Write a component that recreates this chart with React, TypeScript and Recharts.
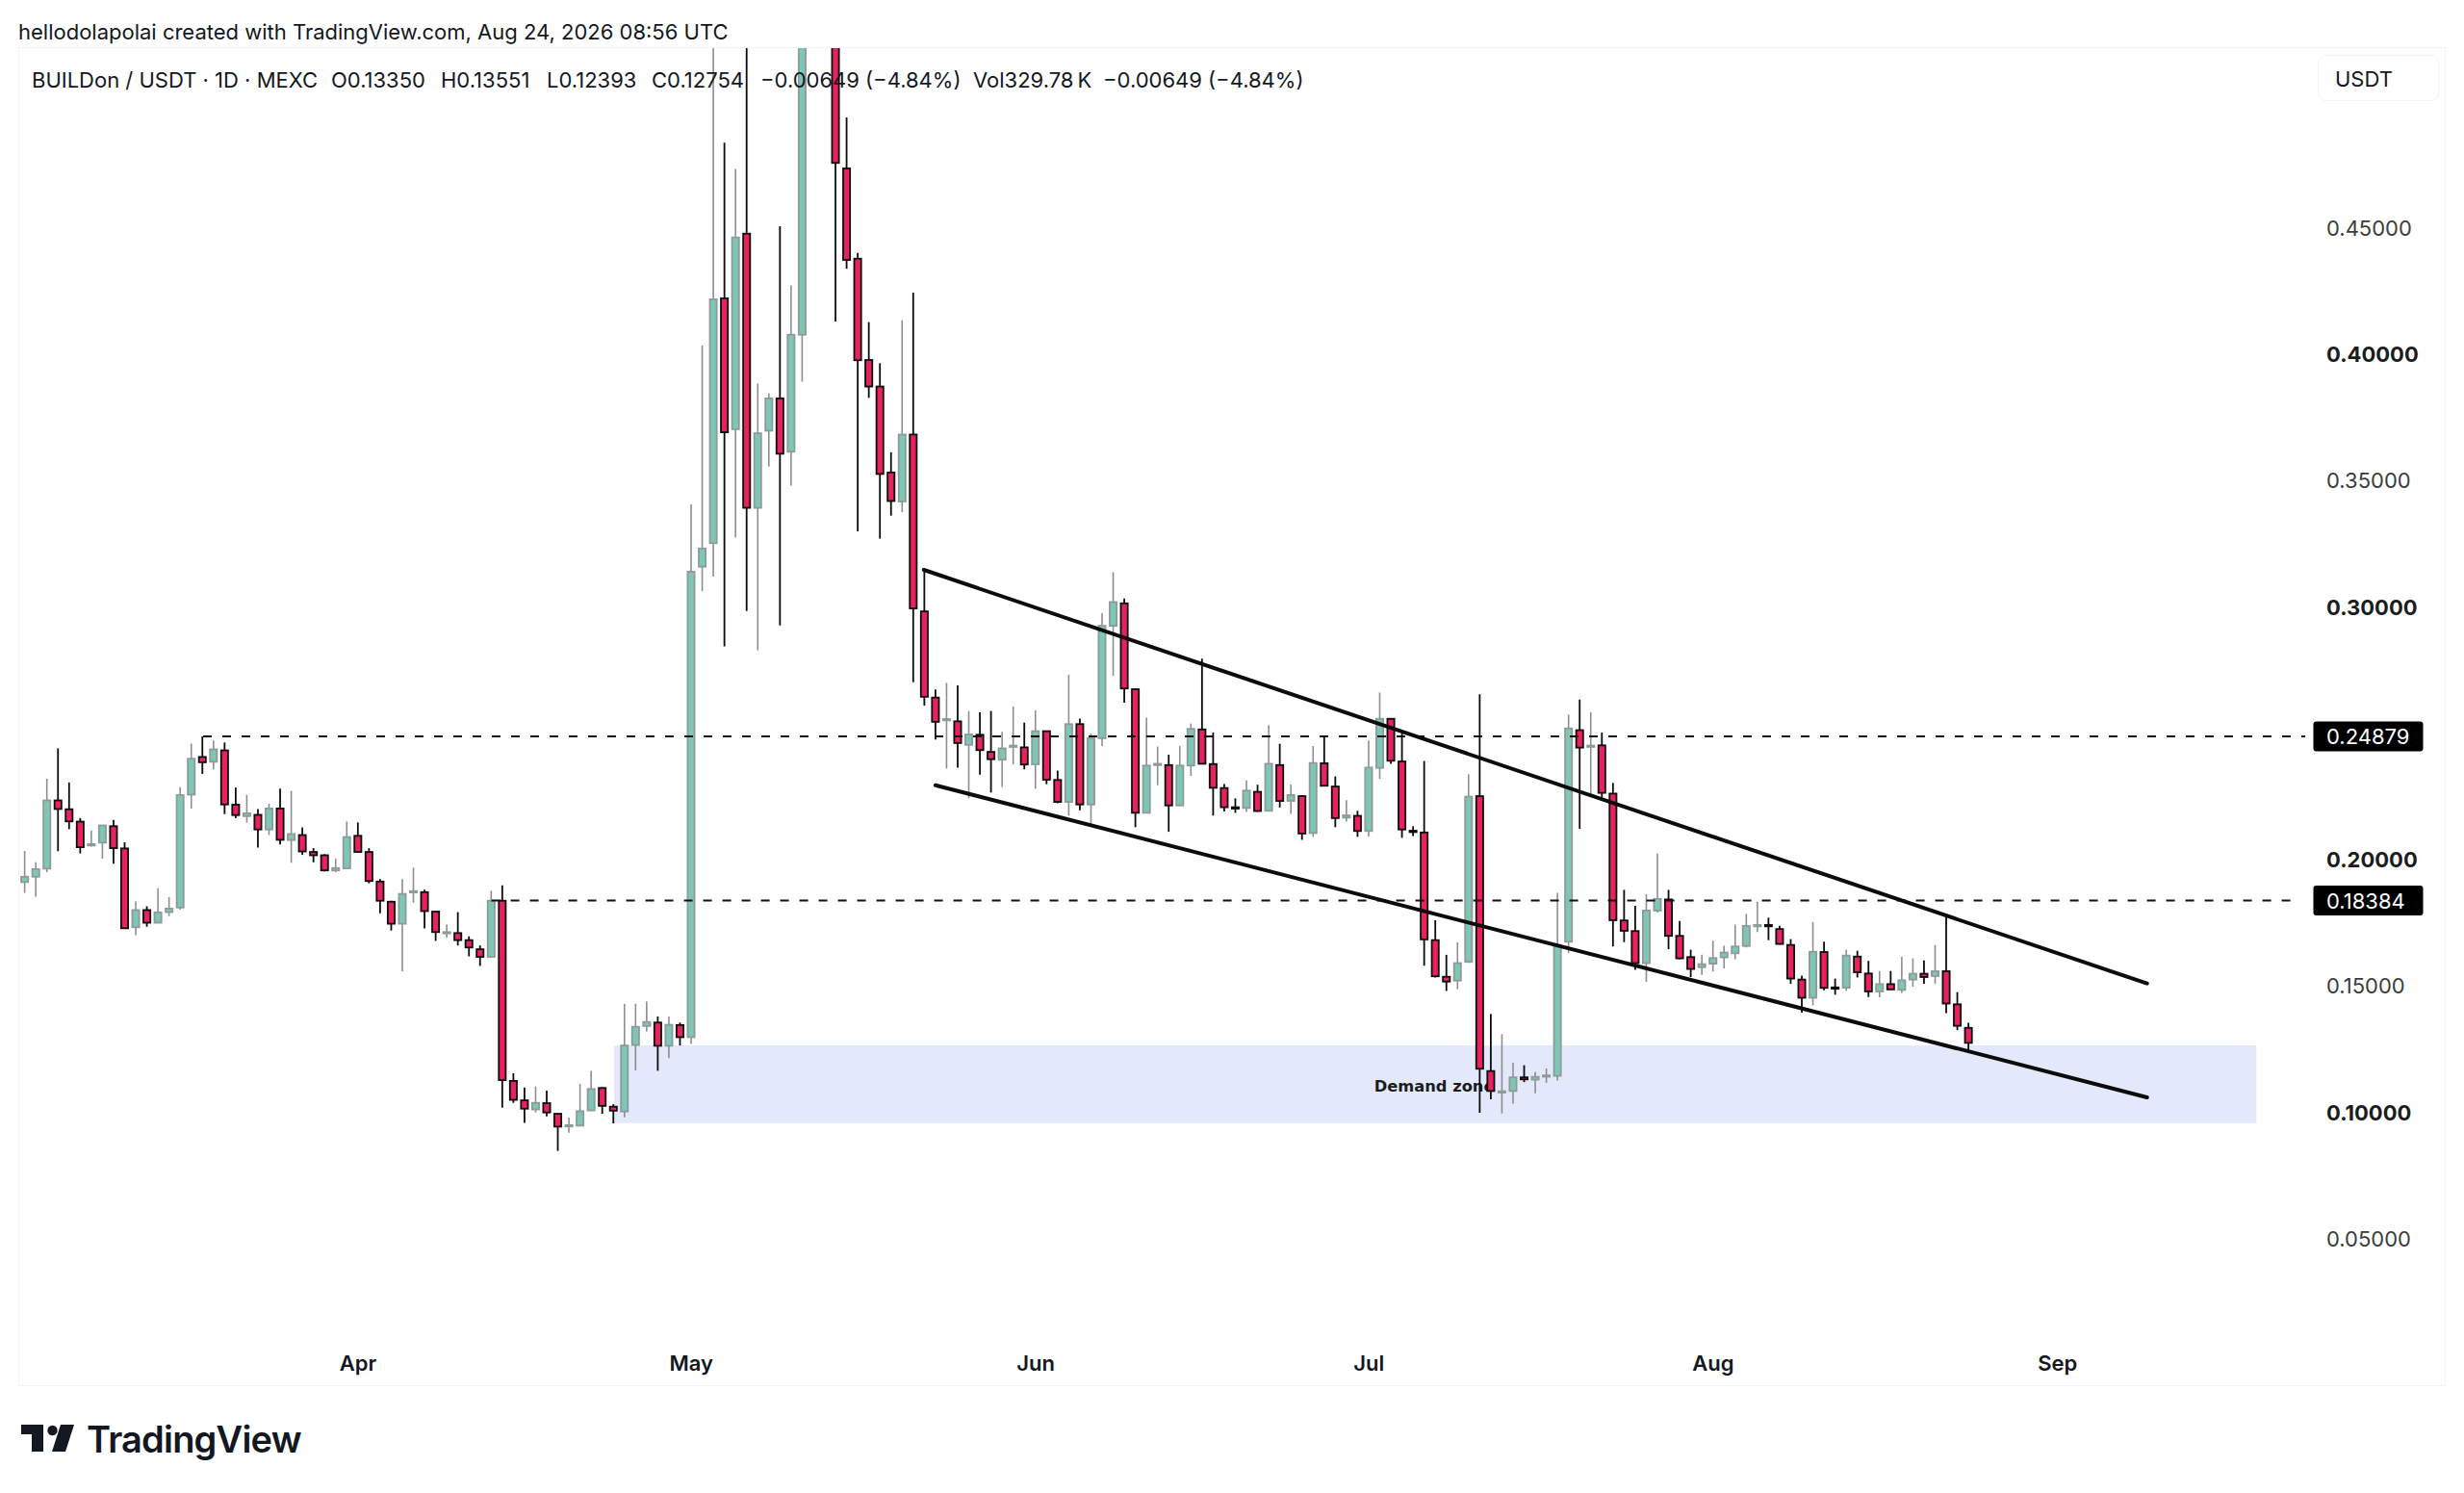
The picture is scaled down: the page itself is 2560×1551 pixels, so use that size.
import { Bar, ComposedChart, ReferenceArea, ReferenceLine, XAxis, YAxis } from 'recharts';

// Daily OHLC, first candle is Mar 2, last is Aug 24
const opens = [
  0.1912, 0.1933, 0.1965, 0.2235, 0.22, 0.2151, 0.2057, 0.2068, 0.2133, 0.2045,
  0.1733, 0.1801, 0.1751, 0.1793, 0.1811, 0.2258, 0.2407, 0.2388, 0.2433, 0.2218,
  0.2173, 0.2178, 0.212, 0.2203, 0.2078, 0.2098, 0.2031, 0.2018, 0.1958, 0.1966,
  0.2095, 0.2031, 0.1914, 0.1834, 0.1747, 0.1873, 0.1872, 0.1795, 0.1712, 0.171,
  0.1682, 0.1646, 0.1616, 0.1838, 0.1125, 0.1048, 0.1012, 0.1037, 0.0995, 0.0948,
  0.0948, 0.1008, 0.1097, 0.1023, 0.1004, 0.1267, 0.1342, 0.1356, 0.1264, 0.1346,
  0.1298, 0.316, 0.3253, 0.4222, 0.3704, 0.4478, 0.3393, 0.3698, 0.3826, 0.3615,
  0.4078, 0.56, 0.61, 0.58, 0.4736, 0.4379, 0.3978, 0.3873, 0.3533, 0.3418,
  0.3683, 0.2983, 0.2642, 0.2553, 0.2548, 0.2455, 0.2495, 0.2427, 0.2396, 0.2449,
  0.2445, 0.2378, 0.2509, 0.2316, 0.2229, 0.2537, 0.2219, 0.2481, 0.2926, 0.3015,
  0.2675, 0.2186, 0.2378, 0.2375, 0.2215, 0.2373, 0.2516, 0.2379, 0.2284, 0.2208,
  0.2205, 0.2269, 0.2194, 0.2375, 0.2233, 0.2252, 0.2106, 0.2382, 0.229, 0.2167,
  0.2174, 0.2114, 0.2364, 0.2558, 0.2389, 0.2115, 0.2108, 0.1682, 0.1537, 0.1522,
  0.1596, 0.2252, 0.1164, 0.1081, 0.1085, 0.1139, 0.113, 0.1145, 0.1145, 0.1676,
  0.2513, 0.2448, 0.2453, 0.2262, 0.176, 0.1718, 0.1591, 0.1799, 0.1843, 0.1699,
  0.1615, 0.1575, 0.1589, 0.1614, 0.163, 0.1659, 0.1738, 0.1742, 0.1726, 0.1663,
  0.1526, 0.1454, 0.1635, 0.1495, 0.1494, 0.1617, 0.155, 0.1479, 0.1508, 0.1485,
  0.1526, 0.1549, 0.154, 0.1559, 0.1428, 0.1335,
];
const highs = [
  0.2035, 0.199, 0.2321, 0.2441, 0.2306, 0.2165, 0.2116, 0.2138, 0.2158, 0.2069,
  0.1835, 0.1816, 0.1887, 0.1852, 0.2287, 0.246, 0.2488, 0.2472, 0.2464, 0.2286,
  0.2257, 0.2201, 0.2222, 0.2282, 0.2273, 0.2128, 0.2046, 0.2022, 0.2004, 0.2151,
  0.2148, 0.2046, 0.1924, 0.1838, 0.1924, 0.1969, 0.1882, 0.1795, 0.1744, 0.1793,
  0.1697, 0.1661, 0.1878, 0.1899, 0.1155, 0.1099, 0.1103, 0.1086, 0.0995, 0.098,
  0.1113, 0.1165, 0.1099, 0.1033, 0.143, 0.143, 0.1439, 0.138, 0.138, 0.1356,
  0.3407, 0.4035, 0.56, 0.4838, 0.4734, 0.55, 0.3885, 0.3846, 0.4507, 0.4273,
  0.6, 0.66, 0.64, 0.6, 0.4938, 0.4402, 0.4128, 0.3965, 0.3613, 0.4135,
  0.4245, 0.315, 0.2674, 0.27, 0.269, 0.2589, 0.2584, 0.2589, 0.2506, 0.2607,
  0.2543, 0.2591, 0.251, 0.2353, 0.2732, 0.2559, 0.25, 0.2976, 0.3138, 0.3034,
  0.2679, 0.2563, 0.2448, 0.2416, 0.245, 0.2539, 0.2796, 0.2504, 0.23, 0.2243,
  0.2314, 0.2297, 0.2533, 0.2459, 0.2298, 0.2256, 0.245, 0.2491, 0.233, 0.2236,
  0.2194, 0.2472, 0.2662, 0.256, 0.25, 0.2133, 0.2391, 0.1761, 0.1624, 0.1673,
  0.2339, 0.2655, 0.139, 0.131, 0.1197, 0.1187, 0.1161, 0.1174, 0.1869, 0.2575,
  0.2634, 0.2584, 0.2504, 0.2304, 0.1881, 0.1818, 0.1864, 0.2025, 0.1881, 0.1758,
  0.1644, 0.1625, 0.168, 0.166, 0.1743, 0.1786, 0.1834, 0.1771, 0.1739, 0.1686,
  0.1542, 0.1754, 0.1676, 0.153, 0.1644, 0.164, 0.16, 0.156, 0.156, 0.1616,
  0.161, 0.1602, 0.1663, 0.1777, 0.1476, 0.13551,
];
const lows = [
  0.1869, 0.1854, 0.1951, 0.2034, 0.2121, 0.2025, 0.2052, 0.2005, 0.1985, 0.1728,
  0.1702, 0.1735, 0.175, 0.1777, 0.1803, 0.2203, 0.234, 0.2358, 0.2181, 0.2165,
  0.2147, 0.2048, 0.2098, 0.2061, 0.1988, 0.202, 0.199, 0.1954, 0.1951, 0.1965,
  0.203, 0.1907, 0.1788, 0.172, 0.1559, 0.183, 0.1728, 0.1679, 0.1691, 0.1661,
  0.1618, 0.158, 0.1615, 0.1019, 0.1038, 0.0959, 0.1, 0.0985, 0.0848, 0.092,
  0.0947, 0.1007, 0.0995, 0.0957, 0.0981, 0.1167, 0.1321, 0.1165, 0.1215, 0.1265,
  0.1271, 0.3063, 0.3121, 0.2845, 0.3276, 0.2985, 0.2829, 0.3556, 0.2927, 0.3481,
  0.3892, 0.54, 0.55, 0.413, 0.4339, 0.33, 0.3828, 0.3271, 0.3362, 0.3376,
  0.2703, 0.261, 0.2476, 0.2361, 0.2365, 0.2243, 0.2337, 0.2266, 0.2287, 0.2377,
  0.2358, 0.2281, 0.2299, 0.2224, 0.2175, 0.2196, 0.2139, 0.245, 0.2728, 0.2622,
  0.2129, 0.2186, 0.2295, 0.2111, 0.2215, 0.2332, 0.238, 0.2175, 0.2191, 0.2186,
  0.2189, 0.219, 0.2193, 0.2207, 0.2182, 0.2079, 0.2091, 0.2293, 0.2129, 0.2151,
  0.2091, 0.2092, 0.232, 0.238, 0.2087, 0.2094, 0.1581, 0.1534, 0.1481, 0.1488,
  0.1592, 0.0999, 0.1052, 0.0996, 0.1035, 0.112, 0.1076, 0.1117, 0.1126, 0.1631,
  0.2123, 0.226, 0.2245, 0.1657, 0.1674, 0.1565, 0.1517, 0.1791, 0.1646, 0.1606,
  0.1536, 0.1545, 0.1558, 0.157, 0.1606, 0.1653, 0.1714, 0.1682, 0.1665, 0.1509,
  0.1395, 0.1424, 0.1484, 0.1466, 0.1481, 0.1534, 0.1457, 0.1456, 0.1487, 0.1473,
  0.1498, 0.1509, 0.1509, 0.1393, 0.1326, 0.12393,
];
const closes = [
  0.1933, 0.1963, 0.2235, 0.2201, 0.2152, 0.205, 0.2062, 0.2136, 0.2046, 0.1729,
  0.1801, 0.1751, 0.1792, 0.1807, 0.2256, 0.24, 0.2386, 0.2437, 0.2219, 0.2177,
  0.2184, 0.212, 0.2203, 0.2079, 0.2102, 0.2033, 0.2018, 0.1958, 0.1967, 0.209,
  0.2031, 0.1916, 0.1838, 0.1747, 0.1865, 0.1876, 0.1797, 0.1714, 0.1714, 0.1682,
  0.1653, 0.1616, 0.1838, 0.1128, 0.105, 0.1015, 0.1038, 0.1, 0.0944, 0.095,
  0.1005, 0.1093, 0.1026, 0.1007, 0.1265, 0.1339, 0.1358, 0.1264, 0.1347, 0.1298,
  0.314, 0.3232, 0.4218, 0.3692, 0.4463, 0.3393, 0.3688, 0.3826, 0.3607, 0.4078,
  0.56, 0.61, 0.58, 0.4758, 0.4374, 0.3977, 0.3873, 0.3527, 0.342, 0.3683,
  0.2995, 0.2645, 0.2546, 0.2557, 0.2462, 0.2496, 0.2434, 0.2398, 0.2441, 0.2452,
  0.2377, 0.2509, 0.2317, 0.2229, 0.2537, 0.2219, 0.2481, 0.2926, 0.302, 0.2678,
  0.2186, 0.2373, 0.238, 0.2215, 0.2373, 0.2518, 0.238, 0.2285, 0.2208, 0.2205,
  0.2274, 0.2193, 0.238, 0.2233, 0.2256, 0.2104, 0.2383, 0.2293, 0.2165, 0.2176,
  0.2114, 0.2365, 0.2558, 0.2392, 0.212, 0.2111, 0.1685, 0.1539, 0.1518, 0.1591,
  0.225, 0.1173, 0.1085, 0.1084, 0.1139, 0.1131, 0.1141, 0.1147, 0.1663, 0.252,
  0.2444, 0.2452, 0.2265, 0.1761, 0.1719, 0.1591, 0.1799, 0.1845, 0.1699, 0.161,
  0.1568, 0.1587, 0.1611, 0.1633, 0.1657, 0.1738, 0.1742, 0.1738, 0.1667, 0.153,
  0.1454, 0.1636, 0.1493, 0.149, 0.1621, 0.1555, 0.1479, 0.1508, 0.1487, 0.1523,
  0.1549, 0.1536, 0.1559, 0.1431, 0.1343, 0.12754,
];

const priceTicks = [0.05, 0.1, 0.15, 0.2, 0.25, 0.3, 0.35, 0.4, 0.45];
const boldTicks = [0.1, 0.2, 0.3, 0.4];
const levels = [0.24879, 0.18384];
const monthTicks = [30, 60, 91, 121, 152, 183];
const monthLabels = ['Apr', 'May', 'Jun', 'Jul', 'Aug', 'Sep'];

const candles = opens.map((open, i) => ({
  day: i,
  open,
  close: closes[i],
  high: highs[i],
  low: lows[i],
  range: [lows[i], highs[i]],
}));

const FONT = 'Inter, sans-serif';
const UP = { body: '#7ec6b5', edge: '#8f9b98', wick: '#8e8e8e' };
const DOWN = { body: '#e8215f', edge: '#0c0c0c', wick: '#0c0c0c' };

// Bar gets the low-high range, the body is placed from the same pixel scale
function Candle(props: any) {
  const { x, y, width, height, payload } = props;
  const perUnit = height / (payload.high - payload.low);
  const up = payload.close >= payload.open;
  const c = up ? UP : DOWN;
  const mid = x + width / 2;
  const top = y + (payload.high - Math.max(payload.open, payload.close)) * perUnit;
  const bodyH = Math.abs(payload.open - payload.close) * perUnit;
  return (
    <g>
      <line x1={mid} x2={mid} y1={y} y2={y + height} stroke={c.wick} strokeWidth={up ? 1.6 : 1.8} />
      <rect
        x={mid - 3.6}
        y={top}
        width={7.2}
        height={Math.max(bodyH, 1.4)}
        fill={c.body}
        stroke={c.edge}
        strokeWidth={1.8}
      />
    </g>
  );
}

function PriceTick({ x, y, payload }: any) {
  const v = payload.value;
  const label = v.toFixed(5);
  if (levels.includes(v)) {
    return (
      <g>
        <rect x={x + 1.5} y={y - 15.5} width={114} height={31} rx={3} fill="#000" />
        <text x={x + 15} y={y} dy="0.36em" fontFamily={FONT} fontSize={22} fill="#fff">{label}</text>
      </g>
    );
  }
  const bold = boldTicks.includes(v);
  return (
    <text
      x={x + 15}
      y={y}
      dy="0.36em"
      fontFamily={FONT}
      fontSize={22}
      fontWeight={bold ? 700 : 400}
      fill={bold ? '#1c1c1c' : '#3c3c3c'}
    >
      {label}
    </text>
  );
}

// Zone and its caption stay together so the candles paint over the caption
function DemandZone({ x, y, width, height }: any) {
  return (
    <g>
      <rect x={x} y={y} width={width} height={height} fill="#e3e9fb" />
      <text
        x={x + width / 2 - 1}
        y={y + height / 2 + 2}
        dy="0.36em"
        textAnchor="middle"
        fontFamily="DejaVu Sans"
        fontWeight={700}
        fontSize={16.3}
        fill="#1c1c1c"
      >
        Demand zone
      </text>
    </g>
  );
}

const legendStyle = { position: 'absolute', top: 70, fontSize: 22, lineHeight: '26px', color: '#131722', whiteSpace: 'pre' } as const;

export default function App() {
  return (
    <div style={{ position: 'absolute', left: 0, top: 0, width: 2560, height: 1551, background: '#fff', fontFamily: FONT }}>
      <div style={{ position: 'absolute', left: 19, top: 49, width: 2522, height: 1391, border: '1.5px solid #f3f4f6', boxSizing: 'border-box' }} />
      <ComposedChart
        width={2560}
        height={1551}
        data={candles}
        margin={{ top: 50, right: 19, bottom: 111, left: 20 }}
        style={{ position: 'absolute', left: 0, top: 0 }}
      >
        <XAxis
          dataKey="day"
          type="number"
          domain={[-0.511, 205.73]}
          allowDataOverflow
          ticks={monthTicks}
          interval={0}
          tickFormatter={(v: number) => monthLabels[monthTicks.indexOf(v)]}
          axisLine={false}
          tickLine={false}
          height={50}
          tickMargin={12}
          tick={{ fontFamily: FONT, fontSize: 22, fontWeight: 600, fill: '#131722' }}
        />
        <YAxis
          orientation="right"
          type="number"
          domain={[0.01074, 0.52122]}
          allowDataOverflow
          ticks={[...priceTicks, ...levels]}
          interval={0}
          axisLine={false}
          tickLine={false}
          tickSize={0}
          width={141}
          tick={PriceTick}
        />
        <ReferenceArea x1={53.04} x2={200.9} y1={0.0958} y2={0.12655} shape={DemandZone} />
        <ReferenceLine
          segment={[{ x: 16.04, y: levels[0] }, { x: 205.3, y: levels[0] }]}
          stroke="#111"
          strokeWidth={2}
          strokeDasharray="9 11"
        />
        <ReferenceLine
          segment={[{ x: 42, y: levels[1] }, { x: 204.9, y: levels[1] }]}
          stroke="#111"
          strokeWidth={2}
          strokeDasharray="9 11"
        />
        <ReferenceLine
          segment={[{ x: 80.93, y: 0.31474 }, { x: 191.06, y: 0.15105 }]}
          stroke="#0c0c0c"
          strokeWidth={4}
          strokeLinecap="round"
        />
        <ReferenceLine
          segment={[{ x: 81.97, y: 0.22952 }, { x: 191.06, y: 0.10598 }]}
          stroke="#0c0c0c"
          strokeWidth={4}
          strokeLinecap="round"
        />
        <Bar dataKey="range" barSize={9} shape={Candle} isAnimationActive={false} />
      </ComposedChart>

      <div style={{ position: 'absolute', left: 19, top: 20, fontSize: 22, lineHeight: '26px', color: '#131722', whiteSpace: 'pre' }}>
        hellodolapolai created with TradingView.com, Aug 24, 2026 08:56 UTC
      </div>
      <div style={{ ...legendStyle, left: 33 }}>BUILDon / USDT · 1D · MEXC</div>
      <div style={{ ...legendStyle, left: 344 }}>O0.13350</div>
      <div style={{ ...legendStyle, left: 458 }}>H0.13551</div>
      <div style={{ ...legendStyle, left: 568 }}>L0.12393</div>
      <div style={{ ...legendStyle, left: 677 }}>C0.12754</div>
      <div style={{ ...legendStyle, left: 790 }}>−0.00649 (−4.84%)</div>
      <div style={{ ...legendStyle, left: 1011 }}>Vol329.78{'\u2009'}K</div>
      <div style={{ ...legendStyle, left: 1146 }}>−0.00649 (−4.84%)</div>
      <div style={{ position: 'absolute', left: 2408, top: 57, width: 126, height: 48, boxSizing: 'border-box', border: '1.5px solid #f4f4f6', borderRadius: 8, fontSize: 22, lineHeight: '48px', paddingLeft: 17, color: '#131722' }}>
        USDT
      </div>
      <svg style={{ position: 'absolute', left: 0, top: 0 }} width={100} height={1551}>
        <path d="M22 1480 H45 V1508 H33 V1490 H22 Z" fill="#131722" />
        <circle cx={54.5} cy={1486} r={5.2} fill="#131722" />
        <path d="M63 1480 H77 L68 1508 H54 Z" fill="#131722" />
      </svg>
      <div style={{ position: 'absolute', left: 90, top: 1472, fontSize: 38, fontWeight: 600, lineHeight: '46px', color: '#131722', letterSpacing: -0.8 }}>
        TradingView
      </div>
    </div>
  );
}
